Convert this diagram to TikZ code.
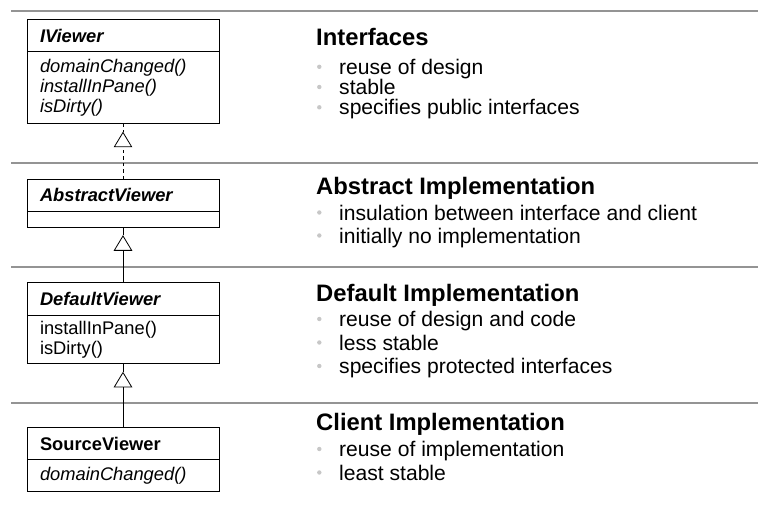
\documentclass[tikz,border=0pt]{standalone}
\usepackage{fontspec}
\setmainfont{Liberation Sans}
\usetikzlibrary{positioning,arrows.meta}
\tikzset{
  sepline/.style={draw=black!42, line width=2pt},
  classhead/.style={draw, line width=0.9pt, minimum width=192pt, minimum height=32.3pt,
    text width=166pt, align=left, inner xsep=13pt, inner ysep=0pt, outer sep=0pt,
    font=\fontsize{18.3}{20}\selectfont},
  classbody/.style={classhead, minimum height=#1},
  inherit/.style={-{Triangle[open, length=15.6pt, width=18.6pt]}, line width=0.8pt},
  realizes/.style={inherit, dash pattern=on 3.5pt off 3pt},
  heading/.style={anchor=base west, inner sep=0pt, font=\fontsize{23.8}{26}\selectfont\bfseries},
  item/.style={anchor=base west, inner sep=0pt, font=\fontsize{21.1}{23}\selectfont},
  bulletdot/.style={fill=black!22},
}
\begin{document}
\begin{tikzpicture}[x=1pt, y=-1pt]
  \useasboundingbox (0,0) rectangle (758,508);
  % Layer separators
  \foreach \y in {11.5, 163.5, 266.7, 403.3}
    \draw[sepline] (11,\y) -- (758,\y);

  % Classes
  \node[classhead] (ivhead) at (123,35.5) {\textbf{\textit{IViewer}}};
  \node[classbody=72.3pt, below=0pt of ivhead] (ivbody)
    {\textit{domainChanged()}\\\textit{installInPane()}\\\textit{isDirty()}};

  \node[classhead] (avhead) at (123,195.3) {\textbf{\textit{AbstractViewer}}};
  \node[classbody=16pt, below=0pt of avhead] (avbody) {};

  \node[classhead] (dvhead) at (123,298.9) {\textbf{\textit{DefaultViewer}}};
  \node[classbody=48.7pt, below=0pt of dvhead] (dvbody) {installInPane()\\isDirty()};

  \node[classhead] (svhead) at (123,443.5) {\textbf{SourceViewer}};
  \node[classbody=31.3pt, below=0pt of svhead] (svbody) {\textit{domainChanged()}};

  % Generalisations
  \coordinate (ivtip) at ([yshift=-7.7pt]ivbody.south);
  \coordinate (avtip) at ([yshift=-7.7pt]avbody.south);
  \coordinate (dvtip) at ([yshift=-8pt]dvbody.south);
  \draw[realizes] (avhead.north) -- (ivtip);
  \draw[line width=0.8pt, dash pattern=on 3.5pt off 3pt] (ivbody.south) -- (ivtip);
  \draw[inherit] (dvhead.north) -- (avtip);
  \draw[line width=0.8pt] (avbody.south) -- (avtip);
  \draw[inherit] (svhead.north) -- (dvtip);
  \draw[line width=0.8pt] (dvbody.south) -- (dvtip);

  % Descriptions
  \node[heading] (ifhead) at (316,46) {Interfaces};
  \node[item] (if1) at (339,74.3) {reuse of design};
  \node[item] (if2) at (339,94.5) {stable};
  \node[item] (if3) at (339,114.8) {specifies public interfaces};

  \node[heading] (abhead) at (316,194) {Abstract Implementation};
  \node[item] (ab1) at (339,220) {insulation between interface and client};
  \node[item] (ab2) at (339,243) {initially no implementation};

  \node[heading] (dfhead) at (316,301.7) {Default Implementation};
  \node[item] (df1) at (339,326.5) {reuse of design and code};
  \node[item] (df2) at (339,350) {less stable};
  \node[item] (df3) at (339,373.5) {specifies protected interfaces};

  \node[heading] (clhead) at (316,430.7) {Client Implementation};
  \node[item] (cl1) at (339,456.5) {reuse of implementation};
  \node[item] (cl2) at (339,480) {least stable};

  \foreach \n in {if1,if2,if3,ab1,ab2,df1,df2,df3,cl1,cl2}
    \fill[bulletdot] ([xshift=-19.7pt, yshift=7.5pt]\n.base west) circle (2.2pt);
\end{tikzpicture}
\end{document}
